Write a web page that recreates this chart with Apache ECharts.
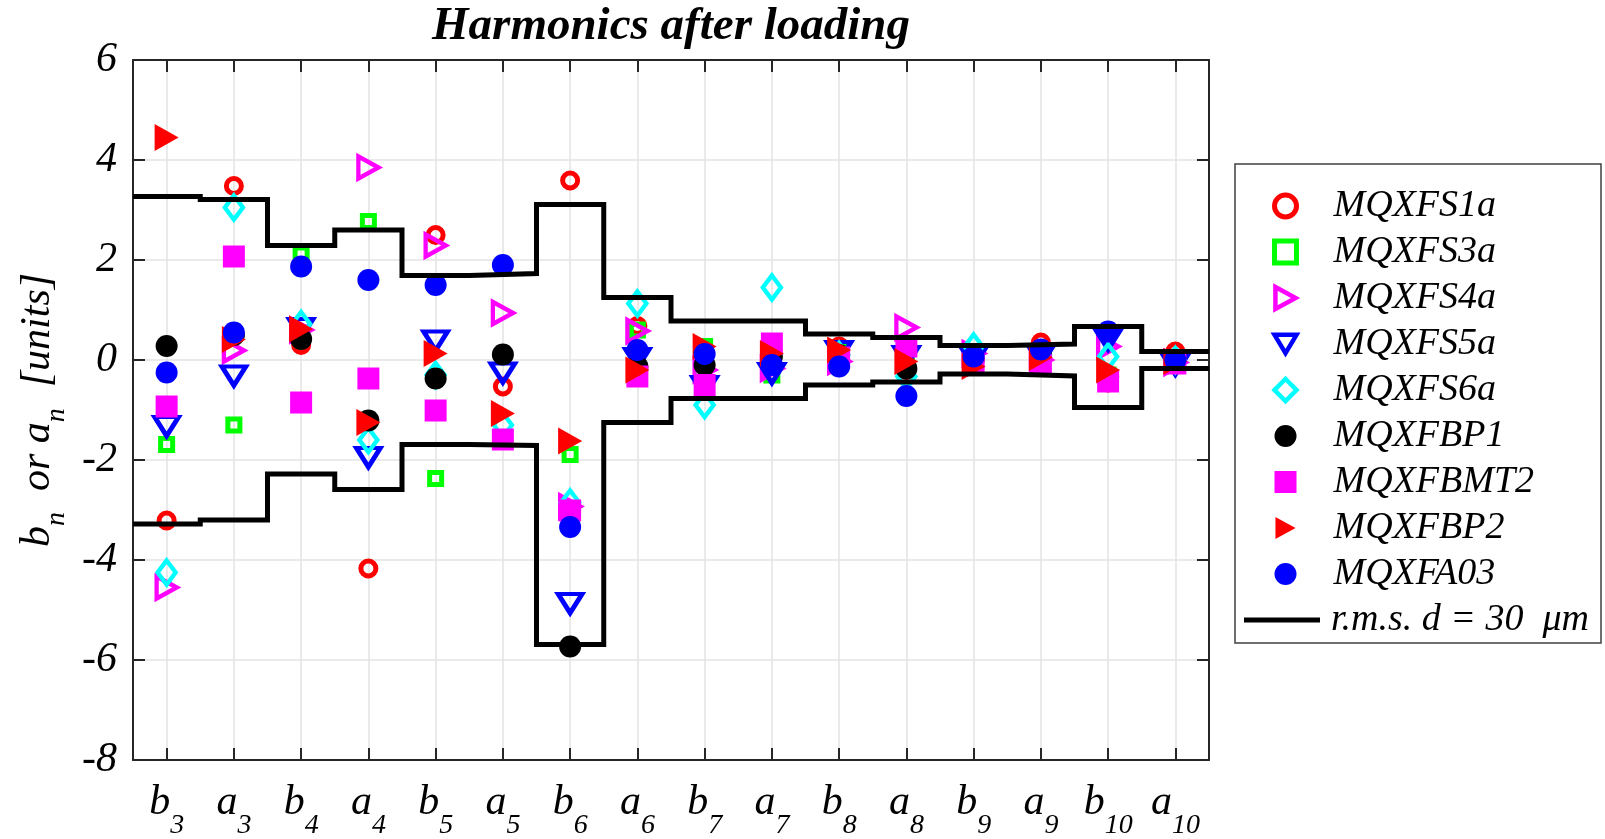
<!DOCTYPE html>
<html>
<head>
<meta charset="utf-8">
<script src="https://cdn.jsdelivr.net/npm/echarts@6/dist/echarts.min.js"></script>
<style>
  html, body { margin: 0; padding: 0; background: #fff; }
  #chart { width: 1605px; height: 839px; }
</style>
</head>
<body>
<div id="chart"></div>
<script>
// 谐波名称（类目）
const categories = ['b3', 'a3', 'b4', 'a4', 'b5', 'a5', 'b6', 'a6', 'b7', 'a7', 'b8', 'a8', 'b9', 'a9', 'b10', 'a10'];

// 各磁体的测量值 [units]
const MQXFS1a = [-3.21, 3.48, 0.30, -4.17, 2.50, -0.53, 3.59, 0.68, 0.10, 0.30, 0.27, -0.20, 0.05, 0.35, -0.45, 0.17];
const MQXFS3a = [-1.69, -1.30, 2.12, 2.77, -2.37, -1.55, -1.89, 0.60, 0.27, -0.30, 0.20, 0.00, 0.05, 0.05, -0.30, 0.00];
const MQXFS4a = [-4.55, 0.19, 0.60, 3.85, 2.29, 0.94, -2.93, 0.58, -0.20, -0.17, -0.03, 0.65, 0.13, 0.00, 0.27, -0.05];
const MQXFS5a = [-1.33, -0.32, 0.63, -1.95, 0.38, -0.26, -4.87, 0.03, -0.53, -0.27, 0.17, 0.07, 0.05, 0.08, 0.40, -0.10];
const MQXFS6a = [-4.25, 3.05, 0.72, -1.60, -0.30, -1.30, -2.85, 1.13, -0.90, 1.45, 0.10, -0.33, 0.27, 0.10, 0.07, 0.00];
const MQXFBP1 = [0.28, 0.50, 0.42, -1.21, -0.37, 0.11, -5.73, -0.13, -0.10, 0.07, 0.10, -0.17, 0.00, 0.10, -0.33, 0.00];
const MQXFBMT2 = [-0.93, 2.07, -0.85, -0.37, -1.01, -1.59, -3.01, -0.33, -0.50, 0.33, 0.05, 0.27, -0.07, -0.10, -0.43, -0.07];
const MQXFBP2 = [4.45, 0.41, 0.62, -1.25, 0.13, -1.07, -1.62, -0.20, 0.27, 0.13, 0.20, -0.03, -0.13, 0.05, -0.20, -0.03];
const MQXFA03 = [-0.25, 0.55, 1.87, 1.60, 1.50, 1.90, -3.34, 0.20, 0.12, -0.10, -0.13, -0.72, 0.07, 0.21, 0.57, 0.00];

// r.m.s. 容差带 (d = 30 μm)
const rmsUpper = [3.27, 3.21, 2.29, 2.60, 1.69, 1.73, 3.11, 1.25, 0.78, 0.78, 0.52, 0.45, 0.29, 0.32, 0.67, 0.17];
const rmsLower = [-3.28, -3.20, -2.28, -2.59, -1.69, -1.71, -5.69, -1.25, -0.77, -0.77, -0.50, -0.44, -0.28, -0.32, -0.95, -0.17];
const rmsName = 'r.m.s. d = 30  \u03bcm';

const FONT = '"Liberation Serif", "Times New Roman", serif';

// 图例里用的三角形路径（图例不继承旋转）
const TRI_RIGHT = 'path://M0,0L11,6L0,12Z';
const TRI_DOWN = 'path://M0,0L12,0L6,10Z';

// 标记样式
const markers = [
  { name: 'MQXFS1a', data: MQXFS1a, symbol: 'circle', size: 15, color: '#ff0000', hollow: true, bw: 5 },
  { name: 'MQXFS3a', data: MQXFS3a, symbol: 'rect', size: 12, color: '#00ff00', hollow: true, bw: 5 },
  { name: 'MQXFS4a', data: MQXFS4a, symbol: 'triangle', size: [22, 20], rotate: -90, icon: TRI_RIGHT, color: '#ff00ff', hollow: true, bw: 4.5 },
  { name: 'MQXFS5a', data: MQXFS5a, symbol: 'triangle', size: [24, 19], rotate: 180, icon: TRI_DOWN, color: '#0000ff', hollow: true, bw: 4.5 },
  { name: 'MQXFS6a', data: MQXFS6a, symbol: 'diamond', size: [18, 24], color: '#00ffff', hollow: true, bw: 4.5 },
  { name: 'MQXFBP1', data: MQXFBP1, symbol: 'circle', size: 22, color: '#000000' },
  { name: 'MQXFBMT2', data: MQXFBMT2, symbol: 'rect', size: 22, color: '#ff00ff' },
  { name: 'MQXFBP2', data: MQXFBP2, symbol: 'triangle', size: [27, 24], rotate: -90, icon: TRI_RIGHT, color: '#ff0000' },
  { name: 'MQXFA03', data: MQXFA03, symbol: 'circle', size: 22, color: '#0000ff' }
];

const styleOf = m => m.hollow
  ? { color: 'rgba(0,0,0,0)', borderColor: m.color, borderWidth: m.bw, opacity: 1 }
  : { color: m.color, borderWidth: 0, opacity: 1 };

const scatterSeries = markers.map(m => ({
  name: m.name,
  type: 'scatter',
  xAxisIndex: 0,
  yAxisIndex: 0,
  data: m.data,
  symbol: m.symbol,
  symbolSize: m.size,
  symbolRotate: m.rotate || 0,
  itemStyle: styleOf(m),
  emphasis: { disabled: true },
  z: 3
}));

// 阶梯线：在类目边界处转折
function stepData(vals) {
  const pts = vals.map((v, i) => [i - 0.5, v]);
  pts.push([vals.length - 0.5, vals[vals.length - 1]]);
  return pts;
}

const lineSeries = [rmsUpper, rmsLower].map(vals => ({
  name: rmsName,
  type: 'line',
  xAxisIndex: 2,
  yAxisIndex: 0,
  step: 'end',
  data: stepData(vals),
  showSymbol: false,
  lineStyle: { color: '#000', width: 5, join: 'miter' },
  itemStyle: { color: '#000' },
  emphasis: { disabled: true },
  z: 4
}));

const richSub = (big, small, pad) => ({
  m: { fontSize: big, fontStyle: 'italic', fontFamily: FONT, color: '#000', verticalAlign: 'bottom', lineHeight: big, padding: [0, 0, pad, 0] },
  s: { fontSize: small, fontStyle: 'italic', fontFamily: FONT, color: '#000', verticalAlign: 'bottom', lineHeight: small }
});

const options = {
  animation: false,
  backgroundColor: '#fff',
  title: {
    text: 'Harmonics after loading',
    left: 671,
    top: 3,
    textAlign: 'center',
    padding: 0,
    textStyle: { fontSize: 47, fontWeight: 'bold', fontStyle: 'italic', fontFamily: FONT, color: '#000' }
  },
  grid: { left: 133, right: 396, top: 60, bottom: 79, containLabel: false, outerBoundsMode: 'none' },
  legend: [
    {
      data: markers.map(m => ({
        name: m.name,
        icon: m.icon || m.symbol,
        itemStyle: styleOf(m)
      })),
      orient: 'vertical',
      left: 1272,
      top: 183,
      itemWidth: 22,
      itemHeight: 22,
      itemGap: 0,
      padding: 0,
      selectedMode: false,
      textStyle: { fontSize: 38, fontStyle: 'italic', fontFamily: FONT, color: '#000', lineHeight: 46, padding: [0, 0, 0, 32] }
    },
    {
      data: [{ name: rmsName, icon: 'rect', itemStyle: { color: '#000', borderWidth: 0 } }],
      orient: 'vertical',
      left: 1244,
      top: 597,
      itemWidth: 76,
      itemHeight: 5,
      padding: 0,
      selectedMode: false,
      textStyle: { fontSize: 38, fontStyle: 'italic', fontFamily: FONT, color: '#000', lineHeight: 46, padding: [0, 0, 0, 6] }
    }
  ],
  graphic: [
    {
      type: 'rect',
      shape: { x: 1235, y: 164, width: 366, height: 479 },
      style: { fill: 'none', stroke: '#404040', lineWidth: 1.5 },
      silent: true
    }
  ],
  xAxis: [
    {
      type: 'category',
      data: categories,
      position: 'bottom',
      axisLine: { show: true, onZero: false, lineStyle: { color: '#262626', width: 2 } },
      axisTick: { show: true, inside: true, alignWithLabel: true, length: 12, lineStyle: { color: '#262626', width: 2 } },
      splitLine: { show: true, alignWithLabel: true, lineStyle: { color: '#e3e3e3', width: 1.5 } },
      axisLabel: {
        interval: 0,
        margin: 38,
        formatter: v => `{m|${v[0]}}{s|${v.slice(1)}}`,
        rich: richSub(42, 28, 16)
      }
    },
    {
      type: 'category',
      data: categories,
      position: 'top',
      axisLine: { show: true, onZero: false, lineStyle: { color: '#262626', width: 2 } },
      axisTick: { show: true, inside: true, alignWithLabel: true, length: 12, lineStyle: { color: '#262626', width: 2 } },
      axisLabel: { show: false },
      splitLine: { show: false }
    },
    {
      type: 'value',
      min: -0.5,
      max: categories.length - 0.5,
      show: false
    }
  ],
  yAxis: [
    {
      type: 'value',
      min: -8,
      max: 6,
      interval: 2,
      position: 'left',
      axisLine: { show: true, onZero: false, lineStyle: { color: '#262626', width: 2 } },
      axisTick: { show: true, inside: true, length: 12, lineStyle: { color: '#262626', width: 2 } },
      splitLine: { show: true, lineStyle: { color: '#e3e3e3', width: 1.5 } },
      axisLabel: { margin: 16, fontSize: 42, fontStyle: 'italic', fontFamily: FONT, color: '#000' },
      name: '{m|b}{s|n}{m|  or a}{s|n}{m|  [units]}',
      nameLocation: 'middle',
      nameRotate: 90,
      nameGap: 55,
      nameTextStyle: { rich: richSub(42, 28, 12) }
    },
    {
      type: 'value',
      min: -8,
      max: 6,
      interval: 2,
      position: 'right',
      axisLine: { show: true, onZero: false, lineStyle: { color: '#262626', width: 2 } },
      axisTick: { show: true, inside: true, length: 12, lineStyle: { color: '#262626', width: 2 } },
      axisLabel: { show: false },
      splitLine: { show: false }
    }
  ],
  series: scatterSeries.concat(lineSeries)
};

const myChart = echarts.init(document.getElementById('chart'));
myChart.setOption(options);
</script>
</body>
</html>
